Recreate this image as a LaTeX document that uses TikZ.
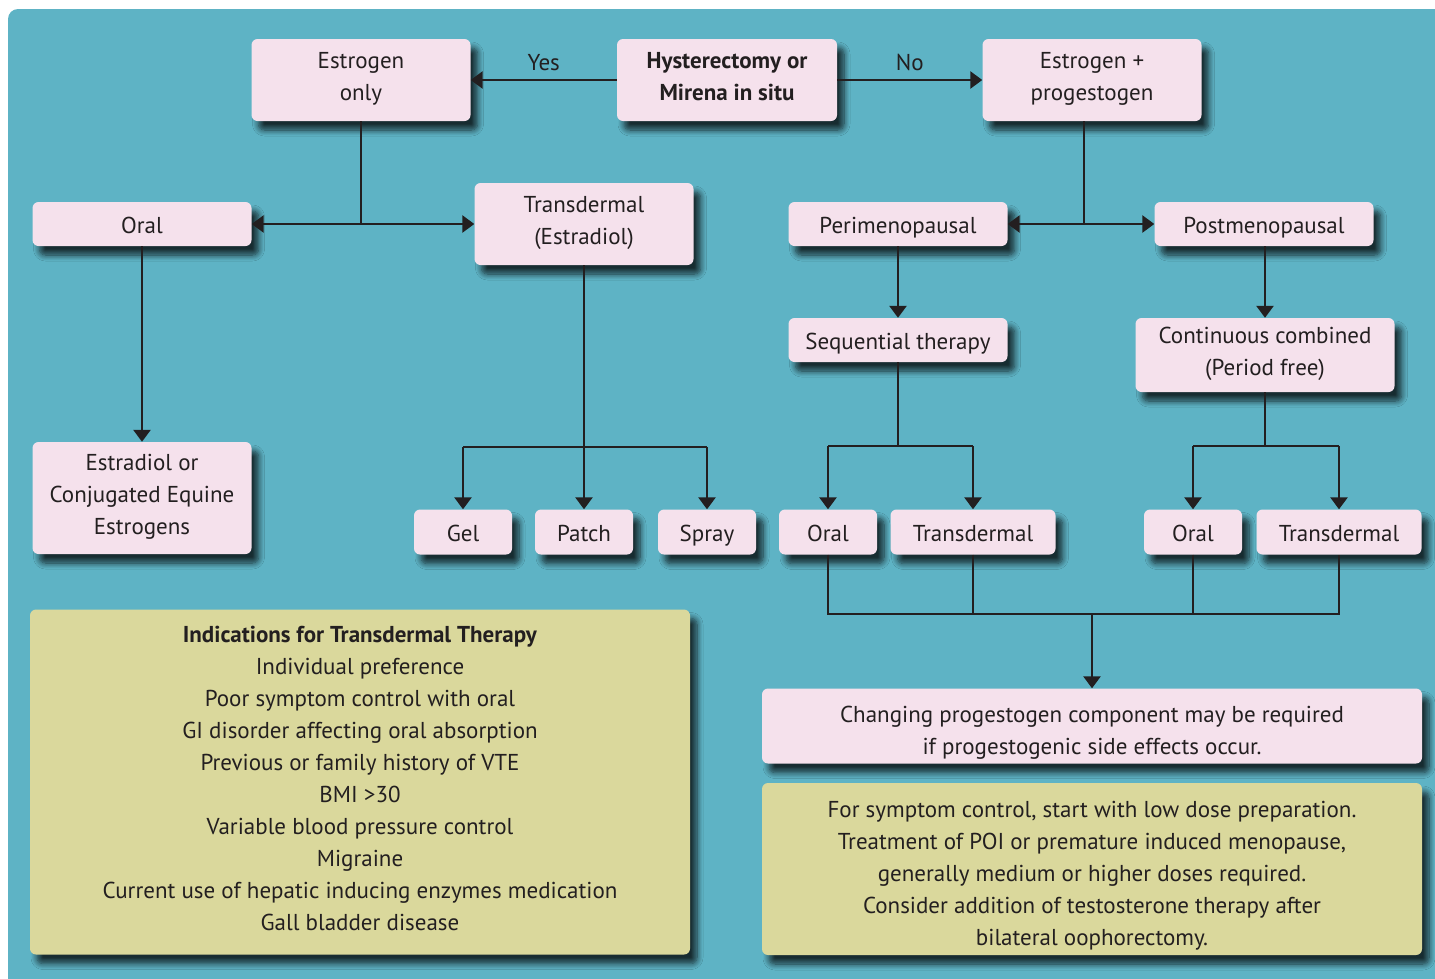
\documentclass[tikz,border=0pt]{standalone}
\usepackage{fontspec}
\setmainfont{PT Sans}
\usetikzlibrary{arrows.meta,shadows.blur}
\definecolor{bgteal}{HTML}{5EB3C5}
\definecolor{boxpink}{HTML}{F5E1EC}
\definecolor{notekhaki}{HTML}{DAD89C}
\definecolor{ink}{HTML}{231F20}
\newcommand{\boxstrut}{\rule[-6.4pt]{0pt}{32pt}}
\newcommand{\tallstrut}{\rule[-6.4pt]{0pt}{37pt}}
\tikzset{
	shd/.style={blur shadow={shadow xshift=7pt, shadow yshift=-9pt, shadow blur radius=6pt, shadow blur steps=8, shadow opacity=75}},
	pbox/.style={shd, fill=boxpink, rounded corners=6pt, inner sep=0pt, align=center, text=ink, font=\fontsize{23}{32}\selectfont, execute at begin node=\boxstrut, execute at end node=\boxstrut},
	kbox/.style={pbox, fill=notekhaki},
	ln/.style={draw=ink, line width=2.6pt},
	arr/.style={ln, -{Triangle[width=17pt,length=12pt]}},
	lbl/.style={text=ink, font=\fontsize{23}{32}\selectfont}
}
\begin{document}
\begin{tikzpicture}[x=1pt,y=-1pt]
	%%%%% START %%%%%
	\useasboundingbox (0,0) rectangle (1435,978);
	\clip (0,0) rectangle (1435,978);
	\fill[bgteal, rounded corners=10pt] (8,9) rectangle (1460,1000);
	
	% top row
	\node[pbox, minimum width=219pt, minimum height=82pt] (estr) at (361,80) {Estrogen\\only};
	\node[pbox, minimum width=220pt, minimum height=82pt, font=\fontsize{23}{32}\selectfont\bfseries] (hyst) at (727,80) {Hysterectomy or\\Mirena in situ};
	\node[pbox, minimum width=219pt, minimum height=82pt] (ep) at (1092,80) {Estrogen +\\progestogen};
	
	\draw[arr] (hyst.west) -- node[lbl, above=5pt] {Yes} (estr.east);
	\draw[arr] (hyst.east) -- node[lbl, above=5pt] {No} (ep.west);
	
	% second row
	\node[pbox, minimum width=219pt, minimum height=44pt] (oral) at (142,224) {Oral};
	\node[pbox, minimum width=219pt, minimum height=82pt] (trans) at (584,224) {Transdermal\\(Estradiol)};
	\node[pbox, minimum width=219pt, minimum height=44pt] (peri) at (898,224) {Perimenopausal};
	\node[pbox, minimum width=219pt, minimum height=44pt] (post) at (1264,224) {Postmenopausal};
	
	\coordinate (j1) at (estr.south |- oral.east);
	\draw[ln] (estr.south) -- (j1);
	\draw[arr] (j1) -- (oral.east);
	\draw[arr] (j1) -- (trans.west);
	\coordinate (j2) at ([xshift=-8pt]ep.south |- peri.east);
	\draw[ln] (ep.south -| j2) -- (j2);
	\draw[arr] (j2) -- (peri.east);
	\draw[arr] (j2) -- (post.west);
	
	% therapy regimes
	\node[pbox, minimum width=219pt, minimum height=44pt] (seq) at (898,340) {Sequential therapy};
	\node[pbox, minimum width=259pt, minimum height=74pt] (cont) at (1265,355) {Continuous combined\\(Period free)};
	\draw[arr] (peri.south) -- (seq.north);
	\draw[arr] (post.south -| cont.north) -- (cont.north);
	
	% oral route
	\node[pbox, minimum width=219pt, minimum height=112pt] (ceq) at (142,498) {Estradiol or\\Conjugated Equine\\Estrogens};
	\draw[arr] (oral.south) -- (ceq.north);
	
	% bottom row
	\node[pbox, minimum width=98pt, minimum height=45pt] (gel) at (463,532) {Gel};
	\node[pbox, minimum width=98pt, minimum height=45pt] (patch) at (584,532) {Patch};
	\node[pbox, minimum width=98pt, minimum height=45pt] (spray) at (707,532) {Spray};
	\node[pbox, minimum width=98pt, minimum height=45pt] (oralA) at (828,532) {Oral};
	\node[pbox, minimum width=165pt, minimum height=45pt] (transA) at (973,532) {Transdermal};
	\node[pbox, minimum width=98pt, minimum height=45pt] (oralB) at (1193,532) {Oral};
	\node[pbox, minimum width=165pt, minimum height=45pt] (transB) at (1339,532) {Transdermal};
	
	\coordinate (t1) at (trans.south |- 0,447);
	\draw[ln] (trans.south) -- (t1);
	\draw[ln] (gel.north |- t1) -- (spray.north |- t1);
	\draw[arr] (gel.north |- t1) -- (gel.north);
	\draw[arr] (t1) -- (patch.north);
	\draw[arr] (spray.north |- t1) -- (spray.north);
	
	\coordinate (s1) at (seq.south |- 0,446);
	\draw[ln] (seq.south) -- (s1);
	\draw[ln] (oralA.north |- s1) -- (transA.north |- s1);
	\draw[arr] (oralA.north |- s1) -- (oralA.north);
	\draw[arr] (transA.north |- s1) -- (transA.north);
	
	\coordinate (c1) at (cont.south |- 0,446);
	\draw[ln] (cont.south) -- (c1);
	\draw[ln] (oralB.north |- c1) -- (transB.north |- c1);
	\draw[arr] (oralB.north |- c1) -- (oralB.north);
	\draw[arr] (transB.north |- c1) -- (transB.north);
	
	% progestogen note
	\node[pbox, minimum width=660pt, minimum height=75pt] (chg) at (1092,726) {\tallstrut Changing progestogen component may be required\\if progestogenic side effects occur.};
	
	\coordinate (m1) at (1092,614);
	\draw[ln] (oralA.south) |- (transB.south |- m1) -- (transB.south);
	\draw[ln] (transA.south) -- (transA.south |- m1);
	\draw[ln] (oralB.south) -- (oralB.south |- m1);
	\draw[arr] (m1) -- (chg.north);
	
	% notes
	\node[kbox, minimum width=660pt, minimum height=345pt] (ind) at (360,782) {\textbf{Indications for Transdermal Therapy}\\Individual preference\\Poor symptom control with oral\\GI disorder affecting oral absorption\\Previous or family history of VTE\\BMI >30\\Variable blood pressure control\\Migraine\\Current use of hepatic inducing enzymes medication\\Gall bladder disease};
	\node[kbox, minimum width=660pt, minimum height=172pt] (dose) at (1092,869) {\tallstrut For symptom control, start with low dose preparation.\\Treatment of POI or premature induced menopause,\\generally medium or higher doses required.\\Consider addition of testosterone therapy after\\bilateral oophorectomy.};
	%%%%% END %%%%%
\end{tikzpicture}
\end{document}
